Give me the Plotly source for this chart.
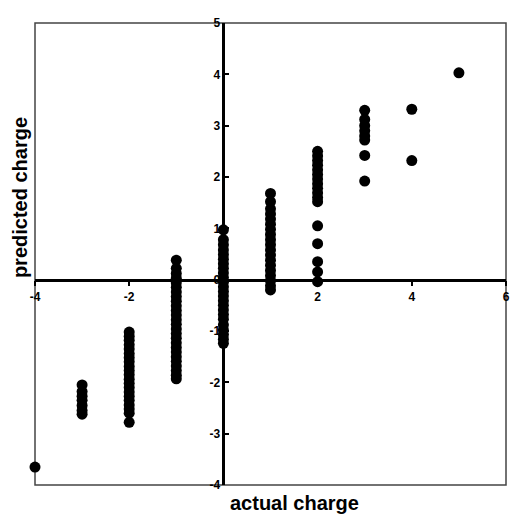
import plotly.graph_objects as go

# actual charge categories and predicted charges
x_m4 = [-3.65]
x_m3 = [-2.05, -2.18, -2.27, -2.35, -2.45, -2.55, -2.62]
x_m2 = [-1.02, -1.1, -1.18, -1.27, -1.35, -1.44, -1.52, -1.6, -1.69, -1.77,
        -1.85, -1.94, -2.02, -2.1, -2.19, -2.27, -2.35, -2.44, -2.52, -2.6, -2.78]
x_m1 = [0.38, 0.22, 0.12, 0.03, -0.06, -0.15, -0.24, -0.33, -0.42, -0.51,
        -0.6, -0.69, -0.78, -0.87, -0.96, -1.05, -1.14, -1.23, -1.32, -1.41,
        -1.5, -1.59, -1.68, -1.77, -1.86, -1.93]
x_0 = [0.97, 0.78, 0.68, 0.58, 0.49, 0.4, 0.31, 0.22, 0.13, 0.04, -0.05,
       -0.14, -0.23, -0.32, -0.41, -0.5, -0.59, -0.68, -0.77, -0.88, -0.98,
       -1.07, -1.16, -1.24]
x_1 = [1.68, 1.52, 1.38, 1.28, 1.18, 1.08, 0.98, 0.88, 0.78, 0.68, 0.58,
       0.48, 0.38, 0.28, 0.18, 0.08, -0.02, -0.12, -0.2]
x_2 = [2.5, 2.41, 2.32, 2.23, 2.14, 2.05, 1.96, 1.87, 1.78, 1.69, 1.6, 1.52,
       1.05, 0.7, 0.35, 0.15, -0.04]
x_3 = [3.3, 3.12, 3.0, 2.9, 2.8, 2.72, 2.42, 1.92]
x_4 = [3.32, 2.32]
x_5 = [4.03]

groups = [(-4, x_m4), (-3, x_m3), (-2, x_m2), (-1, x_m1), (0, x_0),
          (1, x_1), (2, x_2), (3, x_3), (4, x_4), (5, x_5)]

xs, ys = [], []
for a, vals in groups:
    xs += [a] * len(vals)
    ys += vals

x_ticks = [-4, -2, 2, 4, 6]
y_ticks = [-4, -3, -2, -1, 0, 1, 2, 3, 4, 5]

fig = go.Figure()
fig.add_trace(go.Scatter(
    x=xs, y=ys, mode="markers",
    marker=dict(color="black", size=11, line=dict(width=0)),
    cliponaxis=False, showlegend=False,
))

font_tick = dict(family="Liberation Sans, Arial", size=12, color="black")

fig.update_layout(
    width=516, height=516, autosize=False,
    margin=dict(l=35, r=6, t=23, b=31),
    plot_bgcolor="white", paper_bgcolor="white",
    xaxis=dict(
        range=[-4, 6], anchor="free", position=0.4444,
        showgrid=False, zeroline=False,
        showline=True, linecolor="black", linewidth=2.5,
        ticks="outside", ticklen=5, tickwidth=2, tickcolor="black",
        tickvals=x_ticks, ticktext=["<b>%d</b>" % v for v in x_ticks],
        tickfont=font_tick,
    ),
    yaxis=dict(
        range=[-4, 5], anchor="free", position=0.4,
        showgrid=False, zeroline=False,
        showline=True, linecolor="black", linewidth=2.5,
        ticks="inside", ticklen=4, tickwidth=2, tickcolor="black",
        tickvals=y_ticks, ticktext=["<b>%d</b>" % v for v in y_ticks],
        tickfont=font_tick,
    ),
    shapes=[dict(type="rect", xref="paper", yref="paper", x0=0, y0=0, x1=1, y1=1,
                 line=dict(color="#444", width=1.5), layer="below")],
    annotations=[
        dict(text="<b>predicted charge</b>", xref="paper", yref="paper",
             x=-0.032, y=0.623, xanchor="center", yanchor="middle",
             textangle=-90, showarrow=False,
             font=dict(family="Liberation Sans, Arial", size=20, color="black")),
        dict(text="<b>actual charge</b>", xref="paper", yref="paper",
             x=0.552, y=-0.038, xanchor="center", yanchor="middle",
             showarrow=False,
             font=dict(family="Liberation Sans, Arial", size=20, color="black")),
    ],
)

fig.write_html("out.html")
